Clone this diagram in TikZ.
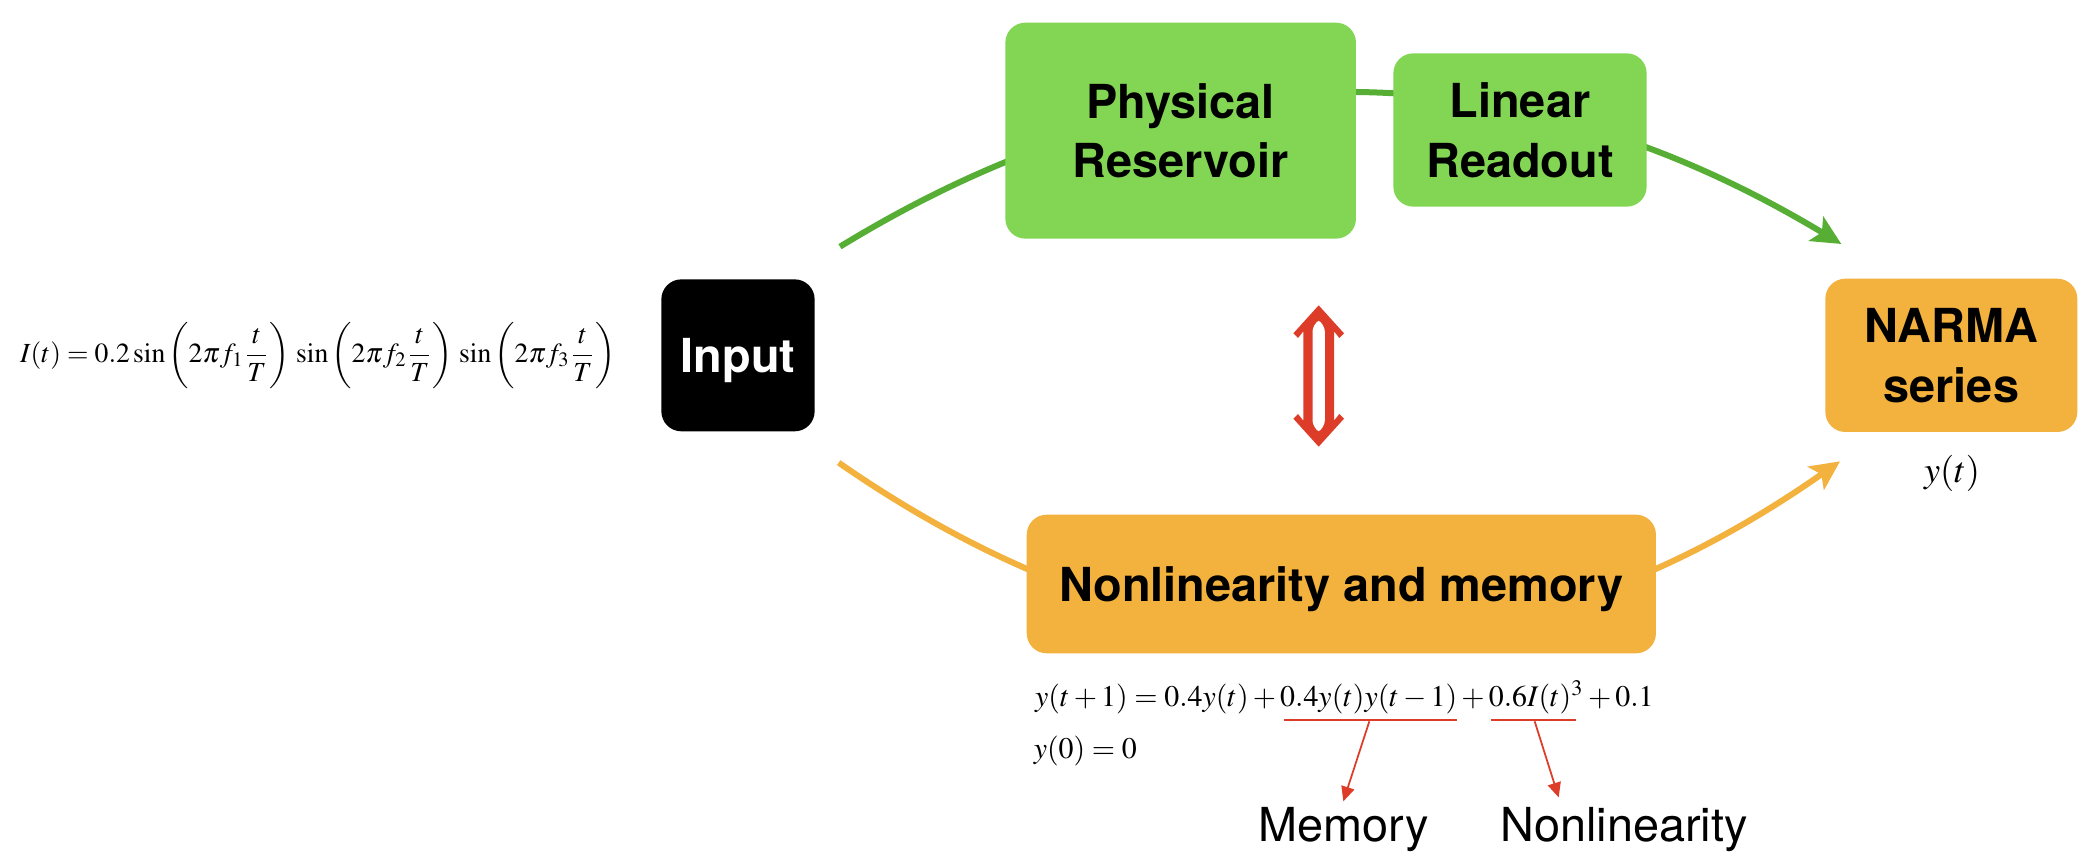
\documentclass[tikz,border=0pt]{standalone}
\usepackage{mathptmx}
\usepackage{graphicx}
\usepackage[no-math]{fontspec}
\newfontfamily\hv{TeX Gyre Heros}
\usetikzlibrary{arrows.meta}
\definecolor{boxgreen}{RGB}{130,214,84}
\definecolor{linegreen}{RGB}{86,174,52}
\definecolor{narmaorange}{RGB}{243,177,61}
\definecolor{accentred}{RGB}{221,60,40}
\newsavebox\eqlineA
\newsavebox\eqlineB
\newlength\eqw
\begin{document}
\sbox\eqlineA{$y(t+1)=0.4y(t)+0.4y(t)y(t-1)+0.6I(t)^3+0.1$}%
\sbox\eqlineB{$y(0)=0$}%
\setlength\eqw{\wd\eqlineA}%
\pgfmathsetmacro\eqscale{9.28cm/\eqw}%
\begin{tikzpicture}[x=0.02cm, y=-0.02cm,
  roundbox/.style={rounded corners=0.3cm, align=center, inner sep=0pt,
    font=\hv\bfseries\fontsize{20}{25.5}\selectfont},
  greenbox/.style={roundbox, fill=boxgreen},
  orangebox/.style={roundbox, fill=narmaorange},
  flowarrow/.style={line width=0.09cm, -{Stealth[length=0.44cm,width=0.42cm,inset=0.1cm]}},
  underl/.style={accentred, line width=1.15pt},
  redpointer/.style={accentred, line width=0.75pt, -{Triangle[length=0.22cm,width=0.2cm]}},
  annot/.style={font=\hv\fontsize{20}{24}\selectfont, inner sep=0pt}
]
\useasboundingbox (0,0) rectangle (1567.5,648);
\fill[white] (0,0) rectangle (1567.5,648);

% free ends of the two flows
\coordinate (gs) at (630,185);
\coordinate (ge) at (1381,183);
\coordinate (os) at (629,347);
\coordinate (oe) at (1380,346);

% flows (behind the boxes)
\draw[flowarrow, linegreen] (gs) .. controls (880,32) and (1130,32) .. (ge);
\draw[flowarrow, narmaorange] (os) .. controls (880,521) and (1130,521) .. (oe);

% boxes
\node[greenbox, minimum width=5.26cm, minimum height=3.24cm] (pr) at (885.5,98) {Physical\\Reservoir};
\node[greenbox, minimum width=3.8cm, minimum height=2.3cm] (lr) at (1140,97.5) {Linear\\Readout};
\node[orangebox, minimum width=3.78cm, minimum height=2.3cm] (narma) at (1463.5,266.5) {NARMA\\series};
\node[roundbox, fill=black, text=white, text depth=0pt, minimum width=2.3cm, minimum height=2.28cm] (in) at (553.5,266.5) {Input};
\node[orangebox, text depth=0pt, minimum width=9.44cm, minimum height=2.08cm] (nlm) at (1006,438) {Nonlinearity and memory};

% input formula
\node[inner sep=0pt] (itf) at (238.5,266.5) {\resizebox{8.94cm}{!}{$\displaystyle I(t)=0.2\sin\,\biggl(2\pi f_1\frac{t}{T}\biggr)\,\sin\,\biggl(2\pi f_2\frac{t}{T}\biggr)\,\sin\,\biggl(2\pi f_3\frac{t}{T}\biggr)$}};

% output label
\node[anchor=base, inner sep=0pt] (yt) at (1464,362) {\scalebox{1.55}{$y(t)$}};

% hollow double arrow
\fill[accentred] (989,229) -- (1008,250) -- (1004.5,253.5) -- (1000.5,248.5) -- (1000.5,315.5) -- (1004.5,310.5) -- (1008,314) -- (989,335) -- (970,314) -- (973.5,310.5) -- (977.5,315.5) -- (977.5,248.5) -- (973.5,253.5) -- (970,250) -- cycle;
\fill[white, rounded corners=0.05cm] (984.4,246) -- (989,239.5) -- (993.6,246) -- (993.6,318) -- (989,324.5) -- (984.4,318) -- cycle;

% NARMA equations
\node[anchor=base west, inner sep=0pt] (eq1) at (776,530) {\scalebox{\eqscale}{\usebox\eqlineA}};
\node[anchor=base west, inner sep=0pt] (eq2) at (775,569) {\scalebox{\eqscale}{\usebox\eqlineB}};

% underlines and pointers
\coordinate (u1a) at (963,540);
\coordinate (u1b) at (1092.5,540);
\coordinate (u2a) at (1118,540);
\coordinate (u2b) at (1182,540);
\draw[underl] (u1a) -- (u1b);
\draw[underl] (u2a) -- (u2b);

\node[annot, anchor=base] (mem) at (1007.5,631) {Memory};
\node[annot, anchor=base] (nonlin) at (1218,631) {Nonlinearity};

\coordinate (p1s) at (1027,541);
\coordinate (p1e) at (1007.5,601);
\coordinate (p2s) at (1151,541);
\coordinate (p2e) at (1169,598);
\draw[redpointer] (p1s) -- (p1e);
\draw[redpointer] (p2s) -- (p2e);
\end{tikzpicture}
\end{document}
